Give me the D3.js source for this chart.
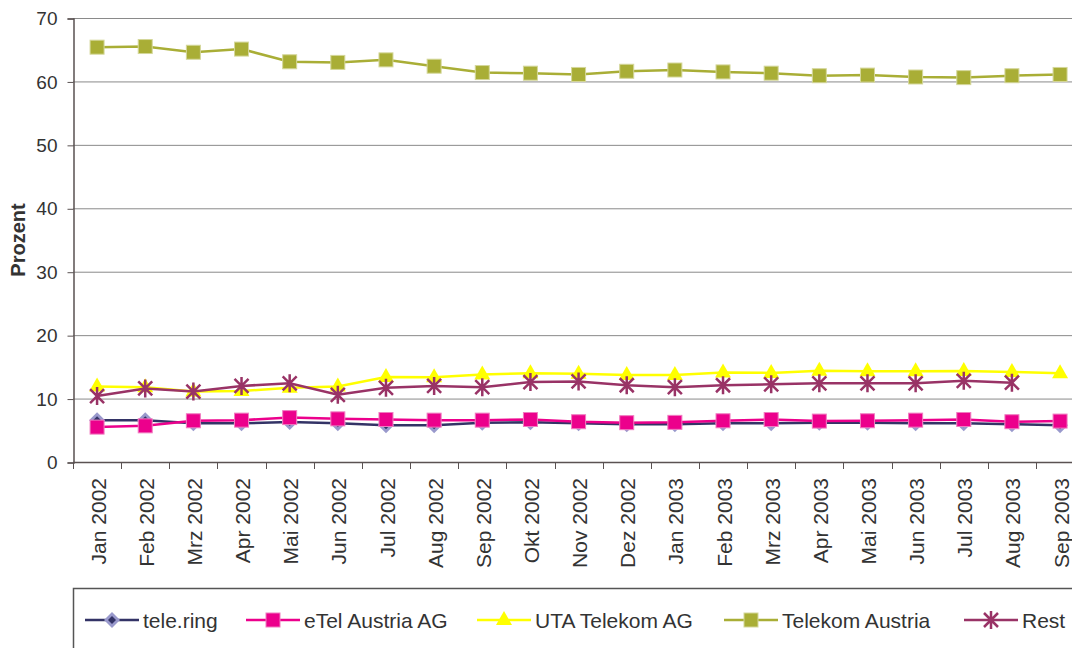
<!DOCTYPE html>
<html>
<head>
<meta charset="utf-8">
<script src="https://cdn.jsdelivr.net/npm/d3@7"></script>
<style>
  body { margin: 0; background: #fff; }
  svg { display: block; font-family: "Liberation Sans", Arial, sans-serif; }
</style>
</head>
<body>
<div id="chart"></div>
<script>
// months on the x axis
var months = ['Jan 2002','Feb 2002','Mrz 2002','Apr 2002','Mai 2002','Jun 2002','Jul 2002','Aug 2002',
  'Sep 2002','Okt 2002','Nov 2002','Dez 2002','Jan 2003','Feb 2003','Mrz 2003','Apr 2003','Mai 2003',
  'Jun 2003','Jul 2003','Aug 2003','Sep 2003'];

var teleRing = [6.6,6.6,6.1,6.1,6.3,6.1,5.8,5.8,6.2,6.25,6.1,5.95,5.95,6.1,6.1,6.2,6.2,6.1,6.1,5.95,5.8];
var eTel = [5.5,5.7,6.5,6.6,7.0,6.8,6.7,6.6,6.6,6.7,6.35,6.2,6.25,6.5,6.7,6.45,6.5,6.6,6.7,6.35,6.45];
var uta = [11.9,11.8,11.1,11.2,11.7,11.9,13.4,13.35,13.8,14.0,13.9,13.7,13.7,14.1,14.05,14.4,14.3,14.3,14.35,14.2,14.0];
var telekom = [65.4,65.5,64.6,65.1,63.1,63.0,63.4,62.4,61.4,61.3,61.1,61.6,61.8,61.5,61.3,60.9,61.0,60.7,60.6,60.9,61.1];
var rest = [10.4,11.6,11.1,12.0,12.4,10.6,11.7,12.0,11.8,12.6,12.7,12.1,11.8,12.1,12.25,12.4,12.4,12.4,12.8,12.5,null];

var yTicks = [0,10,20,30,40,50,60,70];

var series = [
  { name: 'tele.ring', values: teleRing, color: '#333366', mark: 'diamond', fill: '#9999cc', edge: '#333366' },
  { name: 'eTel Austria AG', values: eTel, color: '#ec008c', mark: 'square', fill: '#ec008c', edge: '#f07cc0' },
  { name: 'UTA Telekom AG', values: uta, color: '#ffff00', mark: 'triangle', fill: '#ffff00', edge: 'none' },
  { name: 'Telekom Austria', values: telekom, color: '#a9ae36', mark: 'square', fill: '#a9ae36', edge: '#d4d79a' },
  { name: 'Rest', values: rest, color: '#993366', mark: 'star', fill: 'none', edge: 'none' }
];

var W = 1072, H = 648;
var svg = d3.select('#chart').append('svg').attr('width', W).attr('height', H);

var x = d3.scaleBand().domain(months).range([73, 73 + 21 * 48.15]).padding(0);
var y = d3.scaleLinear().domain([0, 70]).range([462, 18]);
var cx = function (m) { return x(m) + x.bandwidth() / 2; };

// gridlines
svg.append('g').selectAll('line').data(yTicks.filter(function (d) { return d > 0; }))
  .enter().append('line')
  .attr('x1', 73).attr('x2', W)
  .attr('y1', function (d) { return y(d) + 0.5; }).attr('y2', function (d) { return y(d) + 0.5; })
  .attr('stroke', '#8a8a8a').attr('stroke-width', 1);

// y axis
var yAxis = svg.append('g').attr('transform', 'translate(73.5,0.5)')
  .call(d3.axisLeft(y).tickValues(yTicks).tickSize(6).tickPadding(10));
yAxis.select('.domain').attr('stroke', '#5a5252').attr('stroke-width', 1.5);
yAxis.selectAll('.tick line').attr('stroke', '#5a5252');
yAxis.selectAll('text').attr('font-size', '19px').attr('fill', '#333')
  .attr('font-family', '"Liberation Sans", Arial, sans-serif');

// x axis line and boundary ticks
svg.append('line').attr('x1', 73).attr('x2', W).attr('y1', 462.5).attr('y2', 462.5)
  .attr('stroke', '#5a5252').attr('stroke-width', 1.5);
svg.append('g').selectAll('line').data(months).enter().append('line')
  .attr('x1', function (d) { return Math.round(x(d)) + 0.5; })
  .attr('x2', function (d) { return Math.round(x(d)) + 0.5; })
  .attr('y1', 462).attr('y2', 469).attr('stroke', '#5a5252');

svg.append('g').selectAll('text').data(months).enter().append('text')
  .attr('transform', function (d) { return 'translate(' + (cx(d) + 1) + ',478) rotate(-90)'; })
  .attr('text-anchor', 'end').attr('dy', '0.36em')
  .attr('font-size', '21px').attr('fill', '#333')
  .text(function (d) { return d; });

// y title
svg.append('text').attr('transform', 'translate(18,240) rotate(-90)')
  .attr('text-anchor', 'middle').attr('dy', '0.36em')
  .attr('font-size', '20px').attr('font-weight', 'bold').attr('fill', '#333')
  .text('Prozent');

function drawMark(g, s, px, py) {
  var t = 'translate(' + px + ',' + py + ')';
  if (s.mark === 'square') {
    g.append('rect').attr('x', px - 7).attr('y', py - 7).attr('width', 14).attr('height', 14)
      .attr('fill', s.fill).attr('stroke', s.edge).attr('stroke-width', 1);
  } else if (s.mark === 'diamond') {
    g.append('path').attr('d', 'M0,-8L8,0L0,8L-8,0Z').attr('transform', t).attr('fill', s.fill);
    g.append('path').attr('d', 'M0,-4L4,0L0,4L-4,0Z').attr('transform', t).attr('fill', s.edge);
  } else if (s.mark === 'triangle') {
    g.append('path').attr('d', 'M0,-9L8,5L-8,5Z').attr('transform', t).attr('fill', s.fill);
  } else if (s.mark === 'star') {
    g.append('path').attr('d', 'M-7,-7L7,7M-7,7L7,-7M0,-9L0,9').attr('transform', t)
      .attr('stroke', s.color).attr('stroke-width', 2.5).attr('fill', 'none');
  }
}

var line = d3.line()
  .defined(function (d) { return d.v != null; })
  .x(function (d) { return cx(d.m); })
  .y(function (d) { return y(d.v); });

series.forEach(function (s) {
  var pts = months.map(function (m, i) { return { m: m, v: s.values[i] }; });
  var g = svg.append('g');
  g.append('path').datum(pts).attr('d', line)
    .attr('fill', 'none').attr('stroke', s.color).attr('stroke-width', 2.5);
  pts.filter(function (d) { return d.v != null; }).forEach(function (d) {
    drawMark(g, s, cx(d.m), y(d.v));
  });
});

// legend
svg.append('rect').attr('x', 73.5).attr('y', 588.5).attr('width', 1100).attr('height', 100)
  .attr('fill', 'none').attr('stroke', '#555').attr('stroke-width', 1.5);

var legendX = [85, 246, 477, 724, 964];
series.forEach(function (s, i) {
  var g = svg.append('g');
  var x0 = legendX[i], ly = 620;
  g.append('line').attr('x1', x0).attr('x2', x0 + 54).attr('y1', ly).attr('y2', ly)
    .attr('stroke', s.color).attr('stroke-width', 2.5);
  drawMark(g, s, x0 + 27, ly);
  g.append('text').attr('x', x0 + 58).attr('y', ly).attr('dy', '0.36em')
    .attr('font-size', '21px').attr('fill', '#333').text(s.name);
});
</script>
</body>
</html>
